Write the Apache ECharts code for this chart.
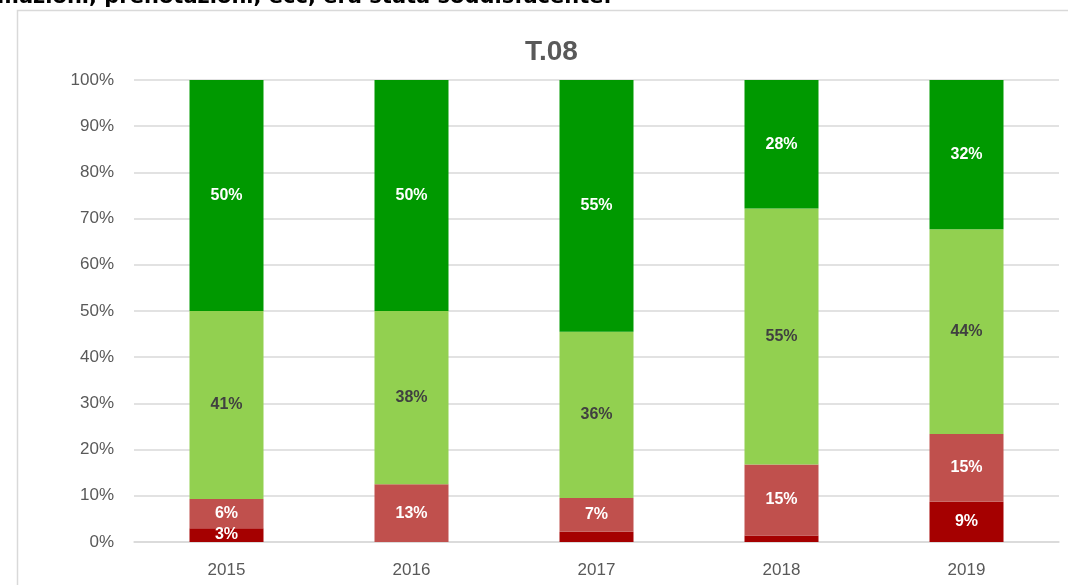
<!DOCTYPE html>
<html><head><meta charset="utf-8">
<script src="https://cdn.jsdelivr.net/npm/echarts@6/dist/echarts.min.js"></script>
<style>html,body{margin:0;padding:0;background:#fff}#c{width:1068px;height:585px}</style>
</head><body><div id="c"></div>
<script>
const categories = ['2015', '2016', '2017', '2018', '2019'];
const darkRed = [3.0, 0, 2.2, 1.4, 8.7];
const red = [6.3, 12.5, 7.3, 15.4, 14.7];
const lightGreen = [40.7, 37.5, 36.0, 55.4, 44.3];
const green = [50.0, 50.0, 54.5, 27.8, 32.3];
const yTicks = [0, 10, 20, 30, 40, 50, 60, 70, 80, 90, 100];

const chart = echarts.init(document.getElementById('c'));
const font = "'Liberation Sans', 'Noto Sans', sans-serif";
function lbl(color) {
  return {
    show: true, position: 'inside', color: color, fontWeight: 'bold', fontSize: 16, fontFamily: font,
    formatter: p => p.value < 2.5 ? '' : Math.round(p.value) + '%'
  };
}
function s(name, data, color, lc) {
  return { name, type: 'bar', stack: 'a', data, barWidth: '40%', itemStyle: { color }, label: lbl(lc) };
}
chart.setOption({
  animation: false,
  title: { text: 'T.08', left: 520, top: 33, textStyle: { fontSize: 28, fontWeight: 'bold', color: '#595959', fontFamily: font } },
  graphic: [
    { type: 'rect', shape: { x: 17.5, y: 10.5, width: 1100, height: 700 }, style: { fill: 'none', stroke: '#d9d9d9', lineWidth: 1.5 }, z: -1 },
    { type: 'text', left: -3, top: -13, style: { text: 'mazioni, prenotazioni, ecc, era stata soddisfacente.', font: "bold 21px 'DejaVu Sans', sans-serif", fill: '#000' } }
  ],
  grid: { left: 134, right: 9, top: 80, bottom: 43 },
  xAxis: {
    type: 'category', data: categories,
    axisLine: { lineStyle: { color: '#d9d9d9', width: 1.5 } }, axisTick: { show: false },
    axisLabel: { color: '#595959', fontSize: 17, fontFamily: font, margin: 20 }
  },
  yAxis: {
    type: 'value', min: 0, max: 100, interval: 10,
    axisLabel: { color: '#595959', fontSize: 17, fontFamily: font, margin: 20, formatter: v => yTicks.includes(v) ? v + '%' : '' },
    splitLine: { lineStyle: { color: '#d9d9d9', width: 1.5 } },
    axisLine: { show: false }, axisTick: { show: false }
  },
  series: [
    s('a', darkRed, '#A50000', '#fff'),
    s('b', red, '#C0504D', '#fff'),
    s('c', lightGreen, '#92D050', '#404040'),
    s('d', green, '#009900', '#fff')
  ]
});
</script></body></html>
